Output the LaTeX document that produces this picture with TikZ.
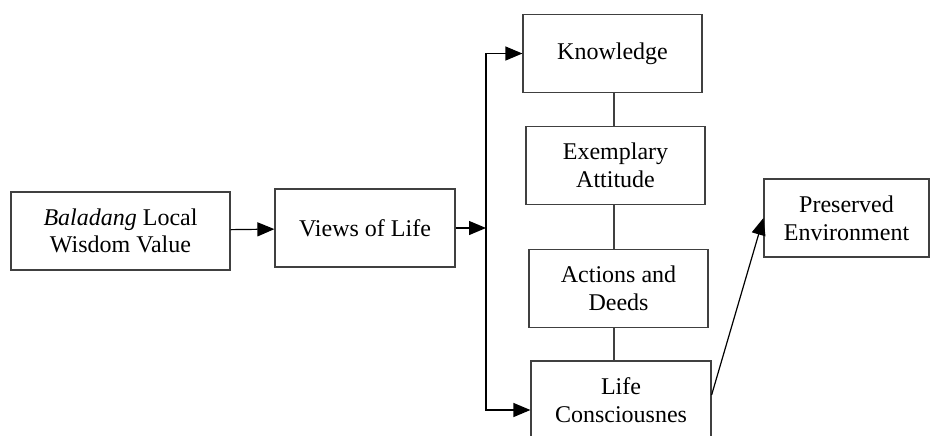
\documentclass[tikz,border=0pt]{standalone}
\usepackage{fontspec}
\setmainfont{Liberation Serif}
\usetikzlibrary{arrows.meta}
\tikzset{
    box/.style={draw=black!75, line width=0.6pt, align=center, minimum height=39pt,
                inner sep=2pt, font=\fontsize{12}{13.8}\selectfont},
    arr/.style={-{Triangle[length=8.5pt,width=7pt]}, line width=0.6pt},
    link/.style={draw=black!75, line width=0.6pt}
}
\begin{document}
\begin{tikzpicture}[x=0.5pt,y=-0.5pt]
    \clip (0,0) rectangle (931,435);

    %%%%%%%%%%%%%%%%%%%%%%%%%%%%%%%%%%%%%%%%%%%%%%%%%%%%%%%%%%%%%%%%%%%%%
    % linke Seite
    \node[box, minimum width=109.5pt] (baladang) at (120.5,231) {\textit{Baladang} Local\\Wisdom Value};
    \node[box, minimum width=90pt] (views) at (365,228) {Views of Life};
    \draw[arr] (baladang) -- (views);

    %%%%%%%%%%%%%%%%%%%%%%%%%%%%%%%%%%%%%%%%%%%%%%%%%%%%%%%%%%%%%%%%%%%%%
    % Spalte
    \node[box, minimum width=89.5pt] (knowledge) at (612.5,53.5) {Knowledge};
    \node[box, minimum width=89.5pt] (attitude) at (615.5,165.5) {Exemplary\\Attitude};
    \node[box, minimum width=89.5pt] (actions) at (618.5,288.5) {Actions and\\Deeds};
    \node[box, minimum width=90pt] (conscious) at (621,400) {Life\\Consciousnes};
    \coordinate (spine) at (614,0);
    \draw[link] (knowledge.south -| spine) -- (attitude.north -| spine);
    \draw[link] (attitude.south -| spine) -- (actions.north -| spine);
    \draw[link] (actions.south -| spine) -- (conscious.north -| spine);

    % Verzweigung
    \coordinate (branch) at (486,228);
    \draw[arr] (views) -- (branch);
    \draw[arr] (branch) |- (knowledge.west);
    \draw[arr] (branch) |- ([yshift=-5pt]conscious.west);

    %%%%%%%%%%%%%%%%%%%%%%%%%%%%%%%%%%%%%%%%%%%%%%%%%%%%%%%%%%%%%%%%%%%%%
    % rechte Seite
    \node[box, minimum width=82.5pt] (environment) at (846.5,218) {Preserved\\Environment};
    \draw[arr] ([yshift=2.5pt]conscious.east) -- (environment.west);
\end{tikzpicture}
\end{document}
